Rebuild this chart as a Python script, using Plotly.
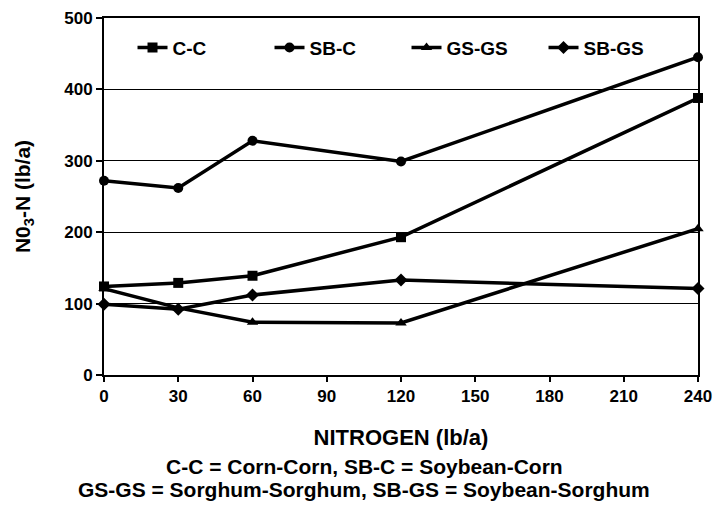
import plotly.graph_objects as go

nitrogen = [0, 30, 60, 120, 240]
cc = [124, 129, 139, 193, 388]
sbc = [272, 262, 328, 299, 445]
gsgs = [121, 94, 74, 73, 205]
sbgs = [99, 92, 112, 133, 121]

series = [
    ("C-C", cc, "square"),
    ("SB-C", sbc, "circle"),
    ("GS-GS", gsgs, "triangle-up"),
    ("SB-GS", sbgs, "diamond"),
]
caption_lines = [
    "C-C = Corn-Corn, SB-C = Soybean-Corn",
    "GS-GS = Sorghum-Sorghum, SB-GS = Soybean-Sorghum",
]

FONT = "Liberation Sans, Arial, sans-serif"
fig = go.Figure()
for name, vals, sym in series:
    fig.add_trace(go.Scatter(
        x=nitrogen, y=vals, name=name, mode="lines+markers",
        line=dict(color="black", width=3.5),
        marker=dict(symbol=sym, size=10, color="black"),
        cliponaxis=False,
    ))

fig.update_layout(
    width=722, height=508,
    margin=dict(l=104, r=24, t=18, b=133),
    plot_bgcolor="white", paper_bgcolor="white",
    font=dict(family=FONT, color="black", size=17),
    legend=dict(orientation="h", x=0.048, y=0.97, xanchor="left", yanchor="top",
                bgcolor="rgba(0,0,0,0)", entrywidth=92, entrywidthmode="pixels",
                itemwidth=30,
                font=dict(size=19, family=FONT, weight="bold")),
    showlegend=True,
)
fig.update_xaxes(
    range=[0, 240], tickvals=list(range(0, 241, 30)),
    showline=True, linecolor="black", linewidth=2, mirror=True,
    ticks="outside", ticklen=5, tickwidth=1.5, tickcolor="black",
    showgrid=False, zeroline=False, automargin=False,
    tickfont=dict(size=17, family=FONT, weight="bold"),
    title=dict(text="NITROGEN (lb/a)", font=dict(size=22, family=FONT, weight="bold"), standoff=24),
)
fig.update_yaxes(
    range=[0, 500], tickvals=list(range(0, 501, 100)),
    showline=True, linecolor="black", linewidth=2, mirror=True,
    ticks="outside", ticklen=6, tickwidth=1.5, tickcolor="black",
    showgrid=True, gridcolor="black", gridwidth=1, zeroline=False, automargin=False,
    tickfont=dict(size=17, family=FONT, weight="bold"),
    title=dict(text="N0<sub>3</sub>-N (lb/a)", font=dict(size=21, family=FONT, weight="bold"), standoff=28),
)
for i, line in enumerate(caption_lines):
    fig.add_annotation(
        text=line, xref="paper", yref="paper", x=0.438, y=-0.255 - i * 0.0645,
        xanchor="center", yanchor="middle", showarrow=False,
        font=dict(size=21, family=FONT, weight="bold"),
    )
fig.write_html("out.html", config={"displayModeBar": False},
               post_script="document.body.style.margin='0';document.body.style.overflow='hidden';")
